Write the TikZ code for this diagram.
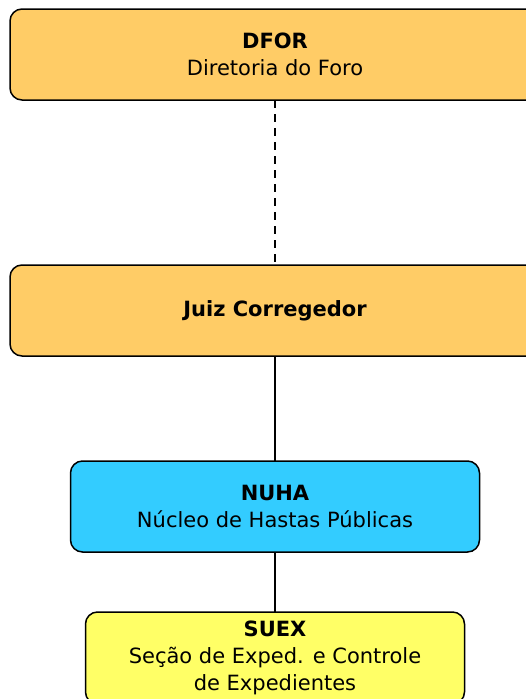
\documentclass[tikz,border=0pt]{standalone}
\usepackage{fontspec}
\setmainfont{DejaVu Sans}
\usetikzlibrary{positioning}
\definecolor{dforfill}{HTML}{FFCC66}
\definecolor{nuhafill}{HTML}{33CCFF}
\definecolor{suexfill}{HTML}{FFFF66}

\begin{document}
\begin{tikzpicture}[x=1pt, y=1pt, node distance=2cm,
	orgbox/.style={rectangle, rounded corners=12pt, draw, line width=1.5pt, align=center, inner sep=0pt, outer sep=0pt, font=\fontsize{21}{27}\selectfont},
	link/.style={line width=1.5pt}]
	\useasboundingbox (0,0) rectangle (526,-699);
	\node[orgbox, fill=dforfill, minimum width=530pt, minimum height=91pt] (dfor) at (275,-54.5) {\textbf{DFOR}\\Diretoria do Foro};
	\node[orgbox, fill=dforfill, minimum width=530pt, minimum height=91pt] (juiz) [below=165pt of dfor] {\textbf{Juiz Corregedor}};
	\node[orgbox, fill=nuhafill, minimum width=409pt, minimum height=91pt] (nuha) [below=105pt of juiz] {\textbf{NUHA}\\Núcleo de Hastas Públicas};
	\node[orgbox, fill=suexfill, minimum width=379pt, minimum height=92pt] (suex) [below=60pt of nuha] {\textbf{SUEX}\\Seção de Exped. e Controle\\de Expedientes};

	\draw[link, dash pattern=on 8pt off 6pt] (dfor) -- (juiz);
	\draw[link] (juiz) -- (nuha);
	\draw[link] (nuha) -- (suex);
\end{tikzpicture}
\end{document}
